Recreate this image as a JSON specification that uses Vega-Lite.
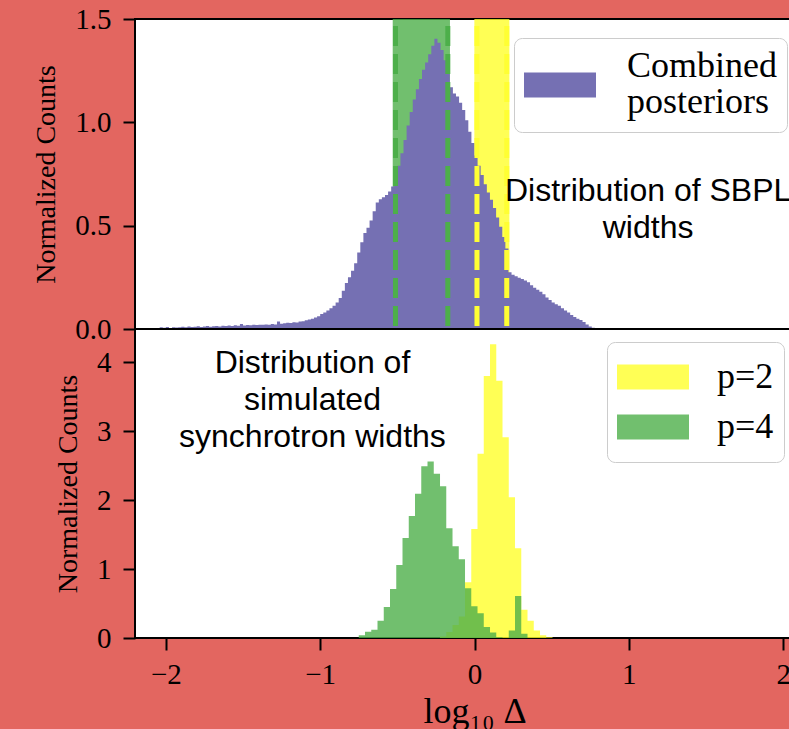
{
  "$schema": "https://vega.github.io/schema/vega-lite/v6.json",
  "background": "#e36660",
  "padding": {"left": 31, "top": 4, "right": 0, "bottom": 0},
  "spacing": 0,
  "bounds": "flush",
  "config": {
    "view": {"stroke": "black", "strokeWidth": 2, "fill": "white"},
    "axis": {"labelFont": "Liberation Serif", "labelFontSize": 29, "labelColor": "black", "titleFont": "Liberation Serif", "titleFontSize": 28, "titleFontWeight": "normal", "titleColor": "black", "tickColor": "black", "tickWidth": 2, "tickSize": 12, "domain": false, "grid": false},
    "axisX": {"labelPadding": 10, "titlePadding": 5},
    "axisY": {"labelPadding": 12, "titlePadding": 14},
    "style": {"guide-label": {"lineHeight": 36}},
    "legend": {"strokeColor": "#cccccc", "fillColor": "white", "cornerRadius": 8, "padding": 10, "symbolStrokeWidth": 0, "labelFont": "Liberation Serif", "labelFontSize": 36, "labelColor": "black", "labelLimit": 400, "symbolType": "M-1,-0.347H1V0.347H-1Z", "symbolSize": 5184}
  },
  "datasets": {
    "purple": [
      {"x0": -2.06, "h": 0.004}, {"x0": -2.04, "h": 0.008}, {"x0": -2.02, "h": 0.006}, {"x0": -2.0, "h": 0.010},
      {"x0": -1.98, "h": 0.005}, {"x0": -1.96, "h": 0.008}, {"x0": -1.94, "h": 0.007}, {"x0": -1.92, "h": 0.009},
      {"x0": -1.9, "h": 0.011}, {"x0": -1.88, "h": 0.008}, {"x0": -1.86, "h": 0.012}, {"x0": -1.84, "h": 0.010},
      {"x0": -1.82, "h": 0.011}, {"x0": -1.8, "h": 0.013}, {"x0": -1.78, "h": 0.010}, {"x0": -1.76, "h": 0.012},
      {"x0": -1.74, "h": 0.014}, {"x0": -1.72, "h": 0.011}, {"x0": -1.7, "h": 0.013}, {"x0": -1.68, "h": 0.015},
      {"x0": -1.66, "h": 0.012}, {"x0": -1.64, "h": 0.016}, {"x0": -1.62, "h": 0.014}, {"x0": -1.6, "h": 0.017},
      {"x0": -1.58, "h": 0.015}, {"x0": -1.56, "h": 0.018}, {"x0": -1.54, "h": 0.016}, {"x0": -1.52, "h": 0.024},
      {"x0": -1.5, "h": 0.017}, {"x0": -1.48, "h": 0.019}, {"x0": -1.46, "h": 0.018}, {"x0": -1.44, "h": 0.020},
      {"x0": -1.42, "h": 0.019}, {"x0": -1.4, "h": 0.021}, {"x0": -1.38, "h": 0.020}, {"x0": -1.36, "h": 0.022},
      {"x0": -1.34, "h": 0.021}, {"x0": -1.32, "h": 0.024}, {"x0": -1.3, "h": 0.022}, {"x0": -1.28, "h": 0.036},
      {"x0": -1.26, "h": 0.025}, {"x0": -1.24, "h": 0.028}, {"x0": -1.22, "h": 0.030}, {"x0": -1.2, "h": 0.029},
      {"x0": -1.18, "h": 0.033}, {"x0": -1.16, "h": 0.031}, {"x0": -1.14, "h": 0.036}, {"x0": -1.12, "h": 0.038},
      {"x0": -1.1, "h": 0.042}, {"x0": -1.08, "h": 0.046}, {"x0": -1.06, "h": 0.050}, {"x0": -1.04, "h": 0.056},
      {"x0": -1.02, "h": 0.062}, {"x0": -1.0, "h": 0.072}, {"x0": -0.98, "h": 0.080}, {"x0": -0.96, "h": 0.090},
      {"x0": -0.94, "h": 0.100}, {"x0": -0.92, "h": 0.112}, {"x0": -0.9, "h": 0.128}, {"x0": -0.88, "h": 0.150},
      {"x0": -0.86, "h": 0.185}, {"x0": -0.84, "h": 0.222}, {"x0": -0.82, "h": 0.250}, {"x0": -0.8, "h": 0.282},
      {"x0": -0.78, "h": 0.318}, {"x0": -0.76, "h": 0.370}, {"x0": -0.74, "h": 0.420}, {"x0": -0.72, "h": 0.465},
      {"x0": -0.7, "h": 0.490}, {"x0": -0.68, "h": 0.525}, {"x0": -0.66, "h": 0.570}, {"x0": -0.64, "h": 0.612},
      {"x0": -0.62, "h": 0.628}, {"x0": -0.6, "h": 0.638}, {"x0": -0.58, "h": 0.648}, {"x0": -0.56, "h": 0.665},
      {"x0": -0.54, "h": 0.690}, {"x0": -0.52, "h": 0.735}, {"x0": -0.5, "h": 0.790}, {"x0": -0.48, "h": 0.850},
      {"x0": -0.46, "h": 0.915}, {"x0": -0.44, "h": 0.985}, {"x0": -0.42, "h": 1.050}, {"x0": -0.4, "h": 1.110},
      {"x0": -0.38, "h": 1.160}, {"x0": -0.36, "h": 1.210}, {"x0": -0.34, "h": 1.255}, {"x0": -0.32, "h": 1.290},
      {"x0": -0.3, "h": 1.330}, {"x0": -0.28, "h": 1.370}, {"x0": -0.26, "h": 1.405}, {"x0": -0.24, "h": 1.385},
      {"x0": -0.22, "h": 1.350}, {"x0": -0.2, "h": 1.300}, {"x0": -0.18, "h": 1.240}, {"x0": -0.16, "h": 1.170},
      {"x0": -0.14, "h": 1.140}, {"x0": -0.12, "h": 1.125}, {"x0": -0.1, "h": 1.095}, {"x0": -0.08, "h": 1.060},
      {"x0": -0.06, "h": 1.010}, {"x0": -0.04, "h": 0.955}, {"x0": -0.02, "h": 0.900}, {"x0": 0.0, "h": 0.840},
      {"x0": 0.02, "h": 0.790}, {"x0": 0.04, "h": 0.745}, {"x0": 0.06, "h": 0.700}, {"x0": 0.08, "h": 0.660},
      {"x0": 0.1, "h": 0.625}, {"x0": 0.12, "h": 0.585}, {"x0": 0.14, "h": 0.540}, {"x0": 0.16, "h": 0.495},
      {"x0": 0.18, "h": 0.445}, {"x0": 0.2, "h": 0.390}, {"x0": 0.22, "h": 0.275}, {"x0": 0.24, "h": 0.262},
      {"x0": 0.26, "h": 0.255}, {"x0": 0.28, "h": 0.248}, {"x0": 0.3, "h": 0.242}, {"x0": 0.32, "h": 0.235},
      {"x0": 0.34, "h": 0.226}, {"x0": 0.36, "h": 0.212}, {"x0": 0.38, "h": 0.200}, {"x0": 0.4, "h": 0.190},
      {"x0": 0.42, "h": 0.180}, {"x0": 0.44, "h": 0.168}, {"x0": 0.46, "h": 0.152}, {"x0": 0.48, "h": 0.140},
      {"x0": 0.5, "h": 0.128}, {"x0": 0.52, "h": 0.120}, {"x0": 0.54, "h": 0.112}, {"x0": 0.56, "h": 0.100},
      {"x0": 0.58, "h": 0.090}, {"x0": 0.6, "h": 0.080}, {"x0": 0.62, "h": 0.068}, {"x0": 0.64, "h": 0.058},
      {"x0": 0.66, "h": 0.050}, {"x0": 0.68, "h": 0.044}, {"x0": 0.7, "h": 0.034}, {"x0": 0.72, "h": 0.022},
      {"x0": 0.74, "h": 0.012}, {"x0": 0.76, "h": 0.006}, {"x0": 0.78, "h": 0.003}, {"x0": 0.8, "h": 0}
    ],
    "yellow": [
      {"x0": -0.2235, "h": 0.02}, {"x0": -0.183, "h": 0.087}, {"x0": -0.1425, "h": 0.19},
      {"x0": -0.102, "h": 0.31}, {"x0": -0.0615, "h": 0.81}, {"x0": -0.021, "h": 1.58},
      {"x0": 0.0195, "h": 2.67}, {"x0": 0.06, "h": 3.80}, {"x0": 0.1005, "h": 4.26},
      {"x0": 0.141, "h": 3.73}, {"x0": 0.1815, "h": 2.91}, {"x0": 0.222, "h": 2.04},
      {"x0": 0.2625, "h": 1.30}, {"x0": 0.303, "h": 0.41}, {"x0": 0.3435, "h": 0.25},
      {"x0": 0.384, "h": 0.11}, {"x0": 0.4245, "h": 0.04}, {"x0": 0.465, "h": 0.01}, {"x0": 0.5055, "h": 0}
    ],
    "green": [
      {"x0": -0.75, "h": 0.04}, {"x0": -0.7095, "h": 0.09}, {"x0": -0.669, "h": 0.12},
      {"x0": -0.6285, "h": 0.25}, {"x0": -0.588, "h": 0.45}, {"x0": -0.5475, "h": 0.71},
      {"x0": -0.507, "h": 1.06}, {"x0": -0.4665, "h": 1.45}, {"x0": -0.426, "h": 1.77},
      {"x0": -0.3855, "h": 2.09}, {"x0": -0.345, "h": 2.49}, {"x0": -0.3045, "h": 2.56},
      {"x0": -0.264, "h": 2.38}, {"x0": -0.2235, "h": 2.20}, {"x0": -0.183, "h": 1.59},
      {"x0": -0.1425, "h": 1.33}, {"x0": -0.102, "h": 1.14}, {"x0": -0.0615, "h": 0.72},
      {"x0": -0.021, "h": 0.46}, {"x0": 0.0195, "h": 0.36}, {"x0": 0.06, "h": 0.16},
      {"x0": 0.1005, "h": 0.08}, {"x0": 0.141, "h": 0.01}, {"x0": 0.1815, "h": 0}, {"x0": 0.222, "h": 0.11},
      {"x0": 0.2625, "h": 0.61}, {"x0": 0.303, "h": 0.06}, {"x0": 0.3435, "h": 0}
    ]
  },
  "resolve": {"scale": {"color": "independent"}, "legend": {"color": "independent"}},
  "vconcat": [
    {
      "width": 679,
      "height": 310,
      "layer": [
        {
          "data": {"values": [{"lo": -0.53, "hi": -0.159}]},
          "mark": {"type": "rect", "color": "#4daf4a", "opacity": 0.8},
          "encoding": {
            "x": {"field": "lo", "type": "quantitative", "scale": {"domain": [-2.2, 2.2], "nice": false, "zero": false}, "axis": null},
            "x2": {"field": "hi"}
          }
        },
        {
          "data": {"values": [{"lo": -0.001, "hi": 0.226}]},
          "mark": {"type": "rect", "color": "#ffff2a", "opacity": 0.8},
          "encoding": {
            "x": {"field": "lo", "type": "quantitative"},
            "x2": {"field": "hi"}
          }
        },
        {
          "data": {"name": "purple"},
          "mark": {"type": "area", "interpolate": "step-after"},
          "encoding": {
            "x": {"field": "x0", "type": "quantitative"},
            "y": {"field": "h", "type": "quantitative", "stack": null, "scale": {"domain": [0, 1.5], "nice": false}, "axis": {"values": [0, 0.5, 1, 1.5], "format": ".1f", "title": "Normalized Counts"}},
            "color": {"datum": "Combined posteriors", "type": "nominal", "scale": {"domain": ["Combined posteriors"], "range": ["#7570b3"]},
              "legend": {"orient": "none", "legendX": 379, "legendY": 19, "title": null, "labelExpr": "['Combined', 'posteriors']", "labelOffset": 31, "labelBaseline": "bottom", "clipHeight": 74, "symbolOpacity": 1, "symbolType": "M-1,-0.347H1V0.347H-1Z"}}
          }
        },
        {
          "data": {"values": [{"x": -0.512}, {"x": -0.173}]},
          "mark": {"type": "rule", "color": "#4daf4a", "strokeWidth": 5, "strokeDash": [20, 8], "strokeDashOffset": 21},
          "encoding": {"x": {"field": "x", "type": "quantitative"}}
        },
        {
          "data": {"values": [{"x": 0.016}, {"x": 0.209}]},
          "mark": {"type": "rule", "color": "#ffff33", "strokeWidth": 5, "strokeDash": [20, 8], "strokeDashOffset": 21},
          "encoding": {"x": {"field": "x", "type": "quantitative"}}
        },
        {
          "data": {"values": [{}]},
          "mark": {"type": "text", "font": "Liberation Sans", "fontSize": 32, "lineBreak": "\n", "lineHeight": 37, "align": "center", "baseline": "middle", "color": "black"},
          "encoding": {
            "x": {"datum": 1.125, "type": "quantitative"},
            "y": {"datum": 0.666, "type": "quantitative"},
            "text": {"value": "Distribution of SBPL\nwidths"}
          }
        }
      ]
    },
    {
      "width": 679,
      "height": 309,
      "layer": [
        {
          "data": {"name": "yellow"},
          "mark": {"type": "area", "interpolate": "step-after", "opacity": 0.8},
          "encoding": {
            "x": {"field": "x0", "type": "quantitative", "scale": {"domain": [-2.2, 2.2], "nice": false, "zero": false}, "axis": {"values": [-2, -1, 0, 1, 2], "format": "d", "title": "log₁₀ Δ", "titleFontSize": 36}},
            "y": {"field": "h", "type": "quantitative", "stack": null, "scale": {"domain": [0, 4.48], "nice": false}, "axis": {"values": [0, 1, 2, 3, 4], "format": "d", "title": "Normalized Counts"}},
            "color": {"datum": "p=2", "type": "nominal", "scale": {"domain": ["p=2", "p=4"], "range": ["#ffff2a", "#4daf4a"]},
              "legend": {"orient": "none", "legendX": 472, "legendY": 13, "title": null, "labelOffset": 28, "clipHeight": 50, "rowPadding": 0, "symbolOpacity": 0.8, "symbolType": "M-1,-0.347H1V0.347H-1Z"}}
          }
        },
        {
          "data": {"name": "green"},
          "mark": {"type": "area", "interpolate": "step-after", "opacity": 0.8},
          "encoding": {
            "x": {"field": "x0", "type": "quantitative"},
            "y": {"field": "h", "type": "quantitative", "stack": null},
            "color": {"datum": "p=4", "type": "nominal"}
          }
        },
        {
          "data": {"values": [{}]},
          "mark": {"type": "text", "font": "Liberation Sans", "fontSize": 32, "lineBreak": "\n", "lineHeight": 37, "align": "center", "baseline": "middle", "color": "black"},
          "encoding": {
            "x": {"datum": -1.05, "type": "quantitative"},
            "y": {"datum": 3.987, "type": "quantitative"},
            "text": {"value": "Distribution of\nsimulated\nsynchrotron widths"}
          }
        }
      ]
    }
  ]
}
